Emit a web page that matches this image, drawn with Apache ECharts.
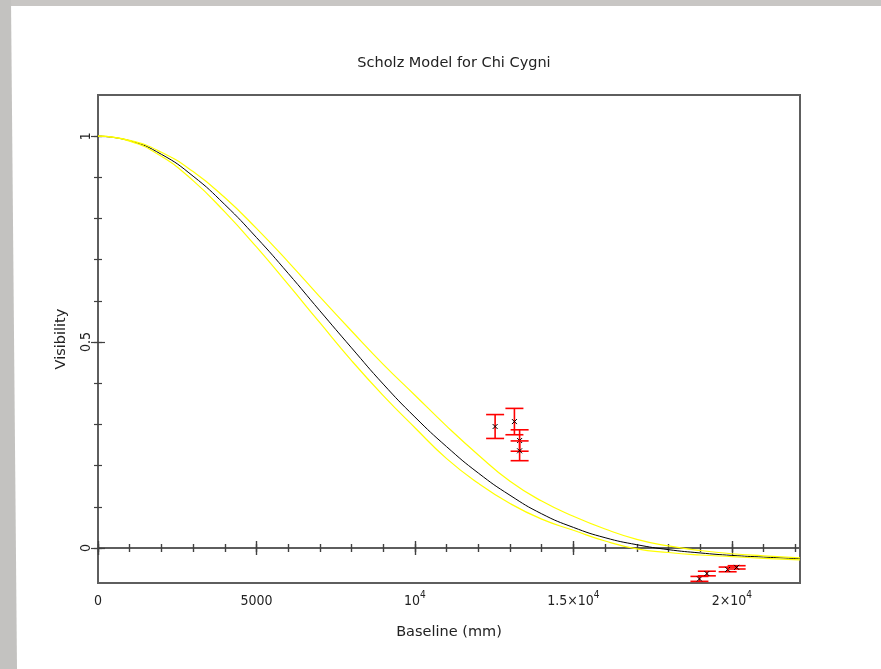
<!DOCTYPE html>
<html>
<head>
<meta charset="utf-8">
<script src="https://cdn.jsdelivr.net/npm/echarts@6/dist/echarts.min.js"></script>
<style>
html,body{margin:0;padding:0;background:#ffffff;}
#chart{width:881px;height:669px;}
</style>
</head>
<body>
<div id="chart"></div>
<script>
// ---- data ----
const baselines = [0,1000,2000,3000,4000,5000,6000,7000,8000,9000,10000,11000,12000,13000,14000,15000,16000,17000,18000,19000,20000,21000,22150];
const modelVis  = [1.000,0.989,0.956,0.903,0.834,0.754,0.667,0.576,0.486,0.398,0.318,0.246,0.182,0.128,0.083,0.050,0.025,0.008,-0.004,-0.012,-0.018,-0.022,-0.026];
const upperVis  = [1.000,0.990,0.961,0.914,0.851,0.776,0.695,0.610,0.527,0.446,0.371,0.296,0.226,0.162,0.114,0.077,0.046,0.021,0.005,-0.006,-0.014,-0.019,-0.024];
const lowerVis  = [1.000,0.988,0.951,0.892,0.816,0.731,0.640,0.547,0.455,0.370,0.292,0.217,0.157,0.108,0.070,0.043,0.017,-0.002,-0.011,-0.017,-0.021,-0.025,-0.029];

const obsBaseline = [12530,13139,13303,13303,18977,19211,19867,20151];
const obsVis      = [0.295,0.307,0.261,0.236,-0.075,-0.062,-0.052,-0.047];
const obsErr      = [0.029,0.032,0.026,0.024,0.006,0.0056,0.0057,0.004];

const xMajorTicks = [0,5000,10000,15000,20000];
const xMinorTicks = [0,1000,2000,3000,4000,5000,6000,7000,8000,9000,10000,11000,12000,13000,14000,15000,16000,17000,18000,19000,20000,21000,22000];
const xTickLabels = ['0','5000','10{sup|4}','1.5×10{sup|4}','2×10{sup|4}'];
const yMajorTicks = [0,0.5,1];
const yMinorTicks = [0,0.1,0.2,0.3,0.4,0.5,0.6,0.7,0.8,0.9,1.0];
const yTickLabels = ['0','0.5','1'];

// ---- chart ----
const X_MIN = 0, X_MAX = 22150, Y_MIN = -0.085, Y_MAX = 1.1;
const FONT = 'DejaVu Sans';
const NFONT = '"Liberation Sans Narrow", "DejaVu Sans Condensed", "Liberation Sans", sans-serif';
const TICK = '#404040';
const FRAME = '#5e5e5e';

function xAx(opts){
  return Object.assign({
    type:'value', min:X_MIN, max:X_MAX, position:'bottom',
    axisLine:{show:false}, splitLine:{show:false},
    axisLabel:{show:false}, axisTick:{show:false}
  }, opts);
}
function yAx(opts){
  return Object.assign({
    type:'value', min:Y_MIN, max:Y_MAX, position:'left',
    axisLine:{show:false}, splitLine:{show:false},
    axisLabel:{show:false}, axisTick:{show:false}
  }, opts);
}
function ticks(values, len, inside){
  return {show:true, inside:inside, length:len, customValues:values, lineStyle:{color:TICK, width:1.2}};
}

const curve = (vals) => baselines.map((b,i)=>[b, vals[i]]);
const obsData = obsBaseline.map((b,i)=>[b, obsVis[i], obsErr[i]]);

const chart = echarts.init(document.getElementById('chart'), null, {renderer:'canvas'});
chart.setOption({
  backgroundColor:'#ffffff',
  animation:false,
  title:{
    text:'Scholz Model for Chi Cygni',
    left:449, top:51, textAlign:'center',
    textStyle:{fontFamily:FONT, fontSize:14.5, fontWeight:'normal', color:'#222'}
  },
  graphic:[
    {type:'rect', z:100, shape:{x:0,y:0,width:881,height:6}, style:{fill:'#c8c6c4'}},
    {type:'polygon', z:100, shape:{points:[[0,0],[11,0],[17,669],[0,669]]}, style:{fill:'#c3c2c0'}}
  ],
  grid:{left:98, top:95, width:702, height:488, show:true, borderColor:FRAME, borderWidth:2, backgroundColor:'transparent', containLabel:false},
  xAxis:[
    xAx({
      name:'Baseline (mm)', nameLocation:'middle', nameGap:42,
      nameTextStyle:{fontFamily:FONT, fontSize:14.5, color:'#222'},
      axisTick:ticks(xMajorTicks,7,true),
      axisLabel:{
        show:true, margin:7, customValues:xMajorTicks,
        fontFamily:NFONT, fontSize:14, lineHeight:22, color:'#222',
        formatter:function(v){ const i = xMajorTicks.indexOf(v); return i>=0 ? xTickLabels[i] : ''; },
        rich:{sup:{fontFamily:NFONT, fontSize:10, lineHeight:3, color:'#222', verticalAlign:'top'}}
      }
    }),
    xAx({axisTick:ticks(xMinorTicks,4,true)}),
    xAx({position:'top', axisTick:ticks(xMajorTicks,7,true)}),
    xAx({position:'top', axisTick:ticks(xMinorTicks,4,true)}),
    xAx({axisLine:{show:true, onZero:true, onZeroAxisIndex:0, lineStyle:{color:FRAME, width:2}}, axisTick:ticks(xMajorTicks,7,true)}),
    xAx({axisLine:{show:false, onZero:true, onZeroAxisIndex:0}, axisTick:ticks(xMajorTicks,7,false)}),
    xAx({axisLine:{show:false, onZero:true, onZeroAxisIndex:0}, axisTick:ticks(xMinorTicks,4,true)}),
    xAx({axisLine:{show:false, onZero:true, onZeroAxisIndex:0}, axisTick:ticks(xMinorTicks,4,false)})
  ],
  yAxis:[
    yAx({
      name:'Visibility', nameLocation:'middle', nameGap:29,
      nameTextStyle:{fontFamily:FONT, fontSize:14.5, color:'#222'},
      axisTick:ticks(yMajorTicks,7,true),
      axisLabel:{
        show:true, margin:5, rotate:90, customValues:yMajorTicks,
        fontFamily:NFONT, fontSize:14, color:'#222',
        formatter:function(v){ const i = yMajorTicks.indexOf(v); return i>=0 ? yTickLabels[i] : ''; }
      }
    }),
    yAx({axisTick:ticks(yMinorTicks,4,true)}),
    yAx({position:'right', axisTick:ticks(yMajorTicks,7,true)}),
    yAx({position:'right', axisTick:ticks(yMinorTicks,4,true)})
  ],
  series:[
    {type:'line', name:'model', data:curve(modelVis), smooth:true, showSymbol:false, z:2,
     lineStyle:{color:'#000000', width:1}},
    {type:'line', name:'upper', data:curve(upperVis), smooth:true, showSymbol:false, z:3,
     lineStyle:{color:'#ffff00', width:1.2}},
    {type:'line', name:'lower', data:curve(lowerVis), smooth:true, showSymbol:false, z:3,
     lineStyle:{color:'#ffff00', width:1.2}},
    {type:'custom', name:'observed', data:obsData, z:5,
     renderItem:function(params, api){
       const x = api.value(0), y = api.value(1), e = api.value(2);
       const c = api.coord([x,y]);
       const t = api.coord([x,y+e]);
       const b = api.coord([x,y-e]);
       const hw = 9, m = 2.5;
       const red = {stroke:'#ff0000', lineWidth:1.6};
       const blk = {stroke:'#000000', lineWidth:1};
       return {type:'group', children:[
         {type:'line', shape:{x1:c[0],y1:t[1],x2:c[0],y2:b[1]}, style:red},
         {type:'line', shape:{x1:c[0]-hw,y1:t[1],x2:c[0]+hw,y2:t[1]}, style:red},
         {type:'line', shape:{x1:c[0]-hw,y1:b[1],x2:c[0]+hw,y2:b[1]}, style:red},
         {type:'line', shape:{x1:c[0]-m,y1:c[1]-m,x2:c[0]+m,y2:c[1]+m}, style:blk},
         {type:'line', shape:{x1:c[0]-m,y1:c[1]+m,x2:c[0]+m,y2:c[1]-m}, style:blk}
       ]};
     }}
  ]
});
</script>
</body>
</html>
